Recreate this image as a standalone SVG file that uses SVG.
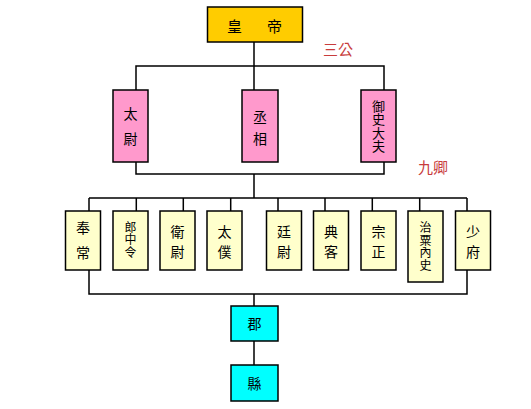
<svg xmlns="http://www.w3.org/2000/svg" width="531" height="409" viewBox="0 0 531 409">
<style>
.box{stroke:#000;stroke-width:1.5}
.emp{fill:#FFCC00}
.gong{fill:#FF99CC}
.qing{fill:#FFFFCC}
.jun{fill:#00FFFF}
text{font-family:"Noto Sans CJK TC","Noto Sans CJK SC",sans-serif;fill:#000;text-anchor:middle;dominant-baseline:central}
.t{font-size:14px}
.v{writing-mode:vertical-rl;text-anchor:start;font-size:12px;letter-spacing:0.5px}
.lab{font-size:15px;fill:#C83C3C}
.ln{stroke:#000;stroke-width:1.5;fill:none}
</style>
<rect width="531" height="409" fill="#fff"/>
<g id="connectors">
<path class="ln" d="M254 42V90M136 90V66H384V90"/>
<path class="ln" d="M136 162V174H384V162M254 174V198M89 198H467"/>
<path class="ln" d="M89 198V211M136.3 198V211M183.3 198V211M230.7 198V211M278 198V211M325 198V211M372.3 198V211M419.7 198V211M467 198V211"/>
<path class="ln" d="M89 270V294H467V270M254 294V306M254 341V365"/>
</g>
<g id="huangdi"><rect class="box emp" x="207.5" y="7" width="95" height="35"/><text class="t" x="234.5" y="25" style="font-size:15px">皇</text><text class="t" x="274.5" y="25" style="font-size:15px">帝</text></g>
<text id="sangong" class="lab" x="338" y="48.5">三公</text>
<text id="jiuqing" class="lab" x="433" y="166">九卿</text>
<g id="taiwei"><rect class="box gong" x="113" y="90" width="35" height="72"/><text class="t" x="130.5" y="113">太</text><text class="t" x="130.5" y="138">尉</text></g>
<g id="chengxiang"><rect class="box gong" x="242" y="90" width="36" height="72"/><text class="t" x="260" y="116">丞</text><text class="t" x="260" y="138">相</text></g>
<g id="yushidafu"><rect class="box gong" x="361" y="90" width="35" height="72"/><text class="v" x="378.5" y="99.5" style="font-size:13px;letter-spacing:0.3px">御史大夫</text></g>
<g id="fengchang"><rect class="box qing" x="65.5" y="211" width="35" height="59"/><text class="t" x="83" y="227">奉</text><text class="t" x="83" y="252">常</text></g>
<g id="langzhongling"><rect class="box qing" x="113" y="211" width="35" height="59"/><text class="v" x="130.5" y="221">郎中令</text></g>
<g id="weiwei"><rect class="box qing" x="160" y="211" width="35" height="59"/><text class="t" x="177.5" y="231">衛</text><text class="t" x="177.5" y="251">尉</text></g>
<g id="taipu"><rect class="box qing" x="207" y="211" width="35" height="59"/><text class="t" x="224.5" y="231">太</text><text class="t" x="224.5" y="251">僕</text></g>
<g id="tingwei"><rect class="box qing" x="266.5" y="211" width="35" height="59"/><text class="t" x="284" y="231">廷</text><text class="t" x="284" y="251">尉</text></g>
<g id="dianke"><rect class="box qing" x="313.5" y="211" width="35" height="59"/><text class="t" x="331" y="231">典</text><text class="t" x="331" y="251">客</text></g>
<g id="zongzheng"><rect class="box qing" x="361" y="211" width="35" height="59"/><text class="t" x="378.5" y="231">宗</text><text class="t" x="378.5" y="251">正</text></g>
<g id="zhisuneishi"><rect class="box qing" x="408" y="211" width="35" height="71"/><text class="v" x="425.5" y="221.5">治粟內史</text></g>
<g id="shaofu"><rect class="box qing" x="455.5" y="211" width="35" height="59"/><text class="t" x="473" y="231">少</text><text class="t" x="473" y="251">府</text></g>
<g id="jun"><rect class="box jun" x="231" y="306" width="47" height="35"/><text class="t" x="254.5" y="323">郡</text></g>
<g id="xian"><rect class="box jun" x="231" y="365" width="47" height="36"/><text class="t" x="254.5" y="383">縣</text></g>
</svg>
